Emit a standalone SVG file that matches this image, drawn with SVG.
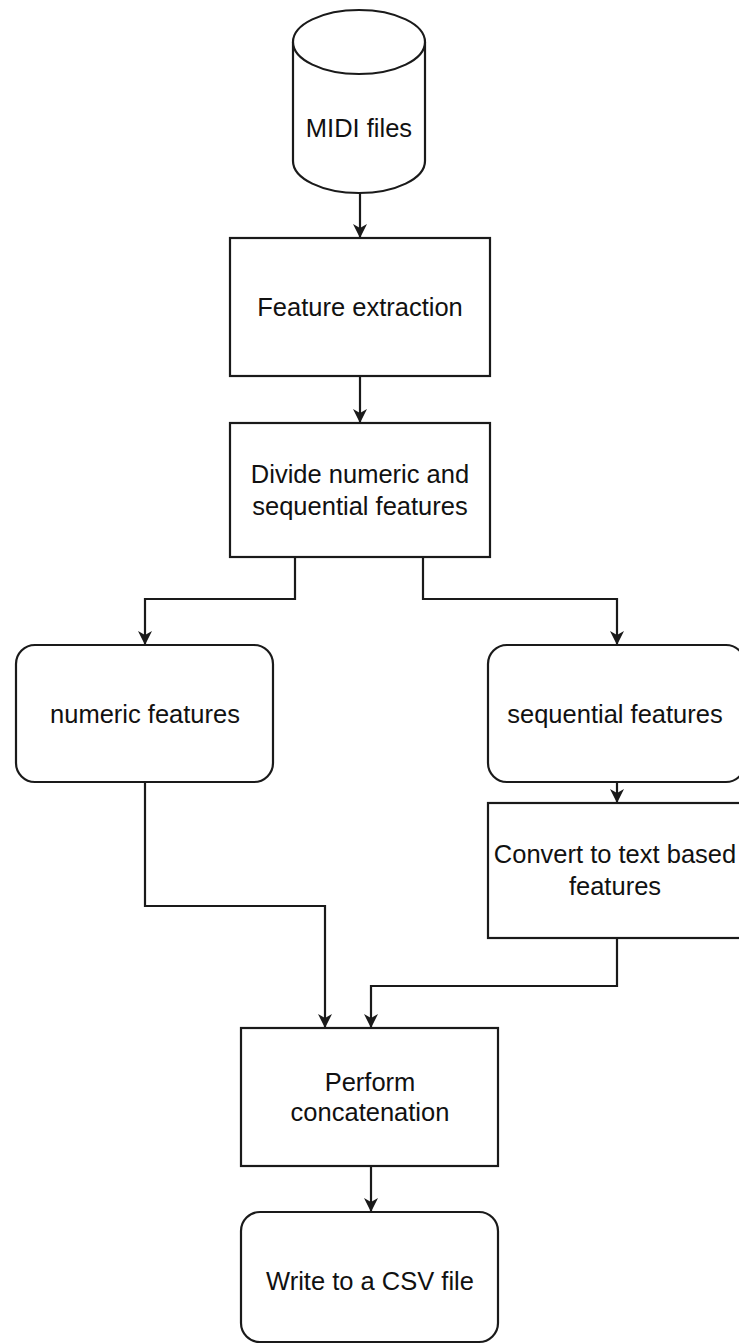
<svg xmlns="http://www.w3.org/2000/svg" width="739" height="1344" viewBox="0 0 739 1344">
<style>
.box{fill:#fff;stroke:#1a1a1a;stroke-width:2.2}
.lbl{font-family:"Liberation Sans",Arial,sans-serif;font-size:25.5px;fill:#111;text-anchor:middle}
.edge{fill:none;stroke:#1a1a1a;stroke-width:2.2}
</style>
<defs>
<marker id="arr" markerUnits="userSpaceOnUse" markerWidth="16" markerHeight="16" refX="14" refY="7" orient="auto">
<path d="M0,0 L14,7 L0,14 L4,7 Z" fill="#1a1a1a"/>
</marker>
</defs>
<rect width="739" height="1344" fill="#fff"/>
<g id="connectors">
<path class="edge" d="M360,193 V238" marker-end="url(#arr)"/>
<path class="edge" d="M360,376 V423" marker-end="url(#arr)"/>
<path class="edge" d="M295,557 V599 H145 V645" marker-end="url(#arr)"/>
<path class="edge" d="M423,557 V599 H617 V645" marker-end="url(#arr)"/>
<path class="edge" d="M617,782 V803" marker-end="url(#arr)"/>
<path class="edge" d="M145,782 V906 H325 V1028" marker-end="url(#arr)"/>
<path class="edge" d="M617,938 V986 H371 V1028" marker-end="url(#arr)"/>
<path class="edge" d="M371,1166 V1212" marker-end="url(#arr)"/>
</g>
<g id="midi">
<path class="box" d="M293,42 A66,32 0 0 1 425,42 V161 A66,32 0 0 1 293,161 Z"/>
<path class="box" d="M293,42 A66,32 0 0 0 425,42" fill="none"/>
<text class="lbl" x="359" y="137">MIDI files</text>
</g>
<g id="feature">
<rect class="box" x="230" y="238" width="260" height="138"/>
<text class="lbl" x="360" y="316">Feature extraction</text>
</g>
<g id="divide">
<rect class="box" x="230" y="423" width="260" height="134"/>
<text class="lbl" x="360" y="483">Divide numeric and</text>
<text class="lbl" x="360" y="515">sequential features</text>
</g>
<g id="numeric">
<rect class="box" x="16" y="645" width="257" height="137" rx="19" ry="19"/>
<text class="lbl" x="145" y="723">numeric features</text>
</g>
<g id="sequential">
<rect class="box" x="488" y="645" width="257" height="137" rx="19" ry="19"/>
<text class="lbl" x="615" y="723">sequential features</text>
</g>
<g id="convert">
<rect class="box" x="488" y="803" width="257" height="135"/>
<text class="lbl" x="615" y="863">Convert to text based</text>
<text class="lbl" x="615" y="895">features</text>
</g>
<g id="perform">
<rect class="box" x="241" y="1028" width="257" height="138"/>
<text class="lbl" x="370" y="1091">Perform</text>
<text class="lbl" x="370" y="1121">concatenation</text>
</g>
<g id="write">
<rect class="box" x="241" y="1212" width="257" height="130" rx="19" ry="19"/>
<text class="lbl" x="370" y="1290">Write to a CSV file</text>
</g>
</svg>
